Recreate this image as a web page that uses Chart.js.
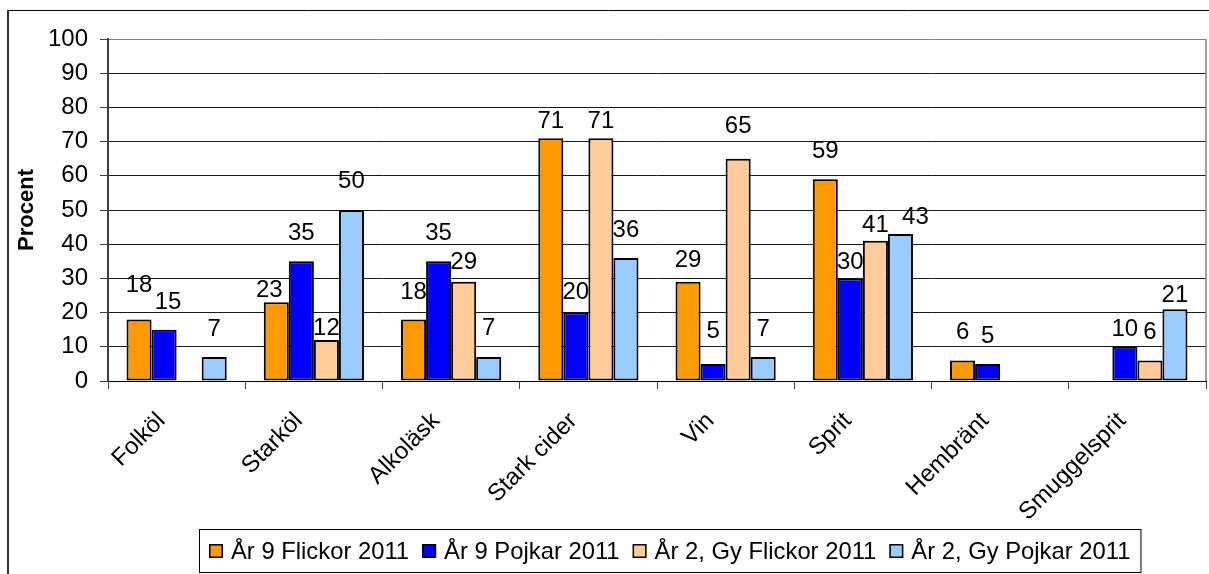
<!DOCTYPE html>
<html><head><meta charset="utf-8">
<script src="https://cdn.jsdelivr.net/npm/chart.js@4.4.1/dist/chart.umd.min.js"></script>
<style>html,body{margin:0;padding:0;background:#fff;}</style>
</head><body>
<canvas id="c" width="1209" height="574"></canvas>
<script>
// ---- data ----
const categories = ['Folköl','Starköl','Alkoläsk','Stark cider','Vin','Sprit','Hembränt','Smuggelsprit'];
const seriesNames = ['År 9 Flickor 2011','År 9 Pojkar 2011','År 2, Gy Flickor 2011','År 2, Gy Pojkar 2011'];
const ar9Flickor = [18, 23, 18, 71, 29, 59, 6, null];
const ar9Pojkar  = [15, 35, 35, 20, 5, 30, 5, 10];
const gyFlickor  = [null, 12, 29, 71, 65, 41, null, 6];
const gyPojkar   = [7, 50, 7, 36, 7, 43, null, 21];
const yMin = 0, yMax = 100, yStep = 10;
const yTitle = 'Procent';

// ---- styles ----
const FONT = "'Liberation Sans', Arial, sans-serif";
const colors = ['#FF9900', '#0000FF', '#FFCC99', '#99CCFF'];
// vertical distance (px) of each value label's centre above its bar top
const labelLift = [
  [34, 12, 27, 17, 21, 28, 28, 0],
  [27, 28, 28, 20, 33, 16, 28, 17],
  [0, 12, 19, 17, 32, 15, 0, 28],
  [28, 29, 29, 28, 28, 17, 0, 14]
];
const labelShift = {'0:1': -7, '1:0': 4, '3:5': 15};

const seriesValues = [ar9Flickor, ar9Pojkar, gyFlickor, gyPojkar];

const framePlugin = {
  id: 'frame',
  beforeDraw(chart) {
    const ctx = chart.ctx;
    ctx.save();
    ctx.fillStyle = '#fff';
    ctx.fillRect(0, 0, chart.width, chart.height);
    ctx.strokeStyle = '#333';
    ctx.lineWidth = 2;
    ctx.beginPath(); ctx.moveTo(8, 10); ctx.lineTo(8, chart.height); ctx.stroke();
    ctx.strokeStyle = '#000';
    ctx.lineWidth = 1;
    ctx.beginPath(); ctx.moveTo(8, 10.5); ctx.lineTo(chart.width, 10.5); ctx.stroke();
    ctx.restore();
  },
  beforeDatasetsDraw(chart) {
    const {ctx, chartArea: a} = chart;
    ctx.save();
    ctx.strokeStyle = '#808080';
    ctx.lineWidth = 1.5;
    ctx.beginPath(); ctx.moveTo(a.right, a.top); ctx.lineTo(a.right, a.bottom); ctx.stroke();
    ctx.restore();
  }
};

const valueLabels = {
  id: 'valueLabels',
  afterDatasetsDraw(chart) {
    const ctx = chart.ctx;
    ctx.save();
    ctx.font = '24px ' + FONT;
    ctx.fillStyle = '#000';
    ctx.textAlign = 'center';
    ctx.textBaseline = 'middle';
    chart.data.datasets.forEach((ds, di) => {
      const meta = chart.getDatasetMeta(di);
      meta.data.forEach((el, i) => {
        const v = ds.data[i];
        if (v === null || v === undefined) return;
        const dx = labelShift[di + ':' + i] || 0;
        ctx.fillText(String(v), el.x + dx, el.y - labelLift[di][i]);
      });
    });
    ctx.restore();
  }
};

const boxLegend = {
  id: 'boxLegend',
  afterDraw(chart) {
    const ctx = chart.ctx;
    ctx.save();
    const fs = 23.8;
    ctx.font = fs + 'px ' + FONT;
    const items = chart.data.datasets.map(d => ({text: d.label, color: d.backgroundColor, w: ctx.measureText(d.label).width}));
    const box = 14, gapBT = 8, gapItem = 13, pad = 10;
    const contentW = items.reduce((s, it) => s + box + gapBT + it.w, 0) + gapItem * (items.length - 1);
    const bw = contentW + 2 * pad, bh = 43;
    const bx = Math.round(670 - bw / 2), by = 529;
    ctx.fillStyle = '#fff';
    ctx.fillRect(bx, by, bw, bh);
    ctx.strokeStyle = '#000';
    ctx.lineWidth = 1;
    ctx.strokeRect(bx + 0.5, by + 0.5, bw, bh);
    let x = bx + pad;
    const cy = by + bh / 2 + 0.5;
    ctx.textBaseline = 'middle';
    ctx.textAlign = 'left';
    items.forEach(it => {
      ctx.fillStyle = it.color;
      ctx.fillRect(x, Math.round(cy - 7), box, box);
      ctx.strokeStyle = '#000';
      ctx.lineWidth = 1.5;
      ctx.strokeRect(x + 0.75, Math.round(cy - 7) + 0.75, box - 1.5, box - 1.5);
      ctx.fillStyle = '#000';
      ctx.fillText(it.text, x + box + gapBT, cy + 1);
      x += box + gapBT + it.w + gapItem;
    });
    ctx.restore();
  }
};

const datasets = seriesNames.map((name, i) => ({
  label: name,
  data: seriesValues[i],
  backgroundColor: colors[i],
  borderColor: '#000',
  borderWidth: 2,
  borderSkipped: false,
  categoryPercentage: 0.73,
  barPercentage: 1.0
}));

new Chart(document.getElementById('c'), {
  type: 'bar',
  data: {labels: categories, datasets},
  options: {
    responsive: false,
    animation: false,
    devicePixelRatio: 1,
    layout: {padding: {left: 8, top: 39, right: 3, bottom: 0}},
    plugins: {legend: {display: false}, tooltip: {enabled: false}, title: {display: false}},
    scales: {
      x: {
        offset: true,
        grid: {display: true, drawOnChartArea: false, drawTicks: true, tickLength: 8, color: '#404040', offset: true},
        border: {display: true, color: '#000', width: 1},
        ticks: {font: {family: FONT, size: 24}, color: '#000', minRotation: 45, maxRotation: 45, padding: 18, labelOffset: -15, autoSkip: false},
        afterFit(scale) { scale.height = 193; }
      },
      y: {
        min: yMin, max: yMax,
        ticks: {stepSize: yStep, font: {family: FONT, size: 24}, color: '#000', padding: 12},
        grid: {
          color: c => (c.tick && c.tick.value === yMax) ? '#808080' : '#1a1a1a',
          tickColor: '#404040', tickLength: 8, lineWidth: 1
        },
        border: {display: true, color: '#404040', width: 2},
        title: {display: true, text: yTitle, font: {family: FONT, size: 22, weight: 'bold'}, color: '#000', padding: {top: 6, bottom: 0}},
        afterFit(scale) { scale.width = 100; }
      }
    }
  },
  plugins: [framePlugin, valueLabels, boxLegend]
});
</script>
</body></html>
